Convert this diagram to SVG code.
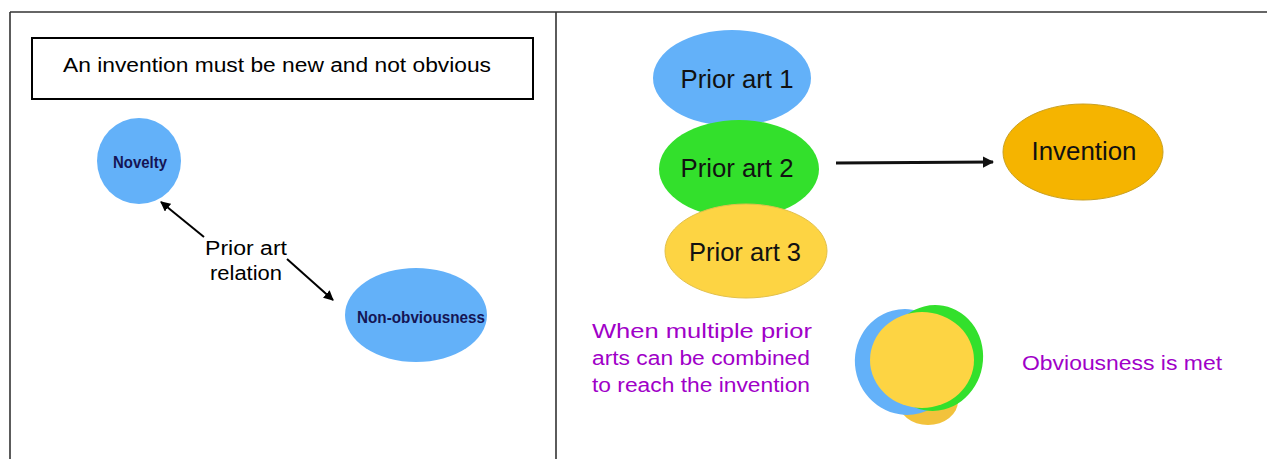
<svg xmlns="http://www.w3.org/2000/svg" width="1267" height="459" viewBox="0 0 1267 459">
<defs>
<marker id="ah" viewBox="0 0 10 10" refX="9" refY="5" markerWidth="5" markerHeight="5" orient="auto" markerUnits="strokeWidth">
<path d="M0,0 L10,5 L0,10 z" fill="#000"/>
</marker>
<marker id="ah2" viewBox="0 0 10 10" refX="9" refY="5" markerWidth="3.6" markerHeight="3.6" orient="auto" markerUnits="strokeWidth">
<path d="M0,0 L10,5 L0,10 z" fill="#111"/>
</marker>
</defs>
<style>
text{font-family:"Liberation Sans",Arial,sans-serif}
.blue{fill:#63b1f9}
.green{fill:#33e02c}
.yellow{fill:#fdd443;stroke:#e2c04a;stroke-width:1}
.orange{fill:#f5b400;stroke:#c9a020;stroke-width:1}
.lbl{font-size:25px;fill:#111;text-anchor:middle}
.small{font-size:17px;font-weight:bold;fill:#151555;text-anchor:middle}
.purple{font-size:20px;fill:#a000c8}
.blk{font-size:20px;fill:#000}
.frame{stroke:#333;stroke-width:1.6;fill:none}
</style>
<rect width="1267" height="459" fill="#fff"/>
<g id="frame">
<line class="frame" x1="10" y1="12" x2="1267" y2="12"/>
<line class="frame" x1="10" y1="12" x2="10" y2="459"/>
<line class="frame" x1="556" y1="12" x2="556" y2="459"/>
</g>
<g id="title">
<rect x="32" y="38" width="501" height="61" fill="#fff" stroke="#000" stroke-width="2"/>
<text x="63" y="72" font-size="19.5" fill="#000" textLength="428" lengthAdjust="spacingAndGlyphs">An invention must be new and not obvious</text>
</g>
<g id="novelty">
<ellipse class="blue" cx="139" cy="161" rx="42" ry="43"/>
<text class="small" x="140" y="168" textLength="54" lengthAdjust="spacingAndGlyphs">Novelty</text>
</g>
<g id="nonobviousness">
<ellipse class="blue" cx="416" cy="315" rx="71" ry="47"/>
<text class="small" x="421" y="323" textLength="128" lengthAdjust="spacingAndGlyphs">Non-obviousness</text>
</g>
<g id="relation-label">
<text class="blk" x="246" y="255" text-anchor="middle" textLength="82" lengthAdjust="spacingAndGlyphs">Prior art</text>
<text class="blk" x="246" y="280" text-anchor="middle" textLength="72" lengthAdjust="spacingAndGlyphs">relation</text>
</g>
<g id="prior1">
<ellipse class="blue" cx="732" cy="78" rx="79" ry="48"/>
<text class="lbl" x="737" y="88" textLength="113" lengthAdjust="spacingAndGlyphs">Prior art 1</text>
</g>
<g id="prior2">
<ellipse class="green" cx="739" cy="169" rx="80" ry="49"/>
<text class="lbl" x="737" y="177" textLength="113" lengthAdjust="spacingAndGlyphs">Prior art 2</text>
</g>
<g id="prior3">
<ellipse class="yellow" cx="746" cy="251" rx="81" ry="47"/>
<text class="lbl" x="745" y="261" textLength="112" lengthAdjust="spacingAndGlyphs">Prior art 3</text>
</g>
<g id="invention">
<ellipse class="orange" cx="1083" cy="152" rx="80" ry="48"/>
<text class="lbl" x="1084" y="160" textLength="105" lengthAdjust="spacingAndGlyphs">Invention</text>
</g>
<g id="connectors">
<line x1="204" y1="237" x2="161" y2="202" stroke="#000" stroke-width="2" marker-end="url(#ah)"/>
<line x1="287" y1="259" x2="333" y2="300" stroke="#000" stroke-width="2" marker-end="url(#ah)"/>
<line x1="836" y1="163" x2="993" y2="162" stroke="#111" stroke-width="3.2" marker-end="url(#ah2)"/>
</g>
<g id="combined">
<ellipse cx="928" cy="401" rx="30" ry="24" fill="#f2c23c"/>
<ellipse cx="906" cy="362" rx="51" ry="53" fill="#63b1f9" transform="rotate(-15 906 362)"/>
<ellipse cx="934" cy="358" rx="49" ry="53" fill="#33e02c" transform="rotate(10 934 358)"/>
<ellipse cx="922" cy="360" rx="52" ry="48" fill="#fdd443"/>
</g>
<g id="notes">
<text class="purple" x="592" y="338" textLength="220" lengthAdjust="spacingAndGlyphs">When multiple prior</text>
<text class="purple" x="592" y="365" textLength="218" lengthAdjust="spacingAndGlyphs">arts can be combined</text>
<text class="purple" x="592" y="392" textLength="218" lengthAdjust="spacingAndGlyphs">to reach the invention</text>
<text class="purple" x="1022" y="370" textLength="200" lengthAdjust="spacingAndGlyphs">Obviousness is met</text>
</g>
</svg>
